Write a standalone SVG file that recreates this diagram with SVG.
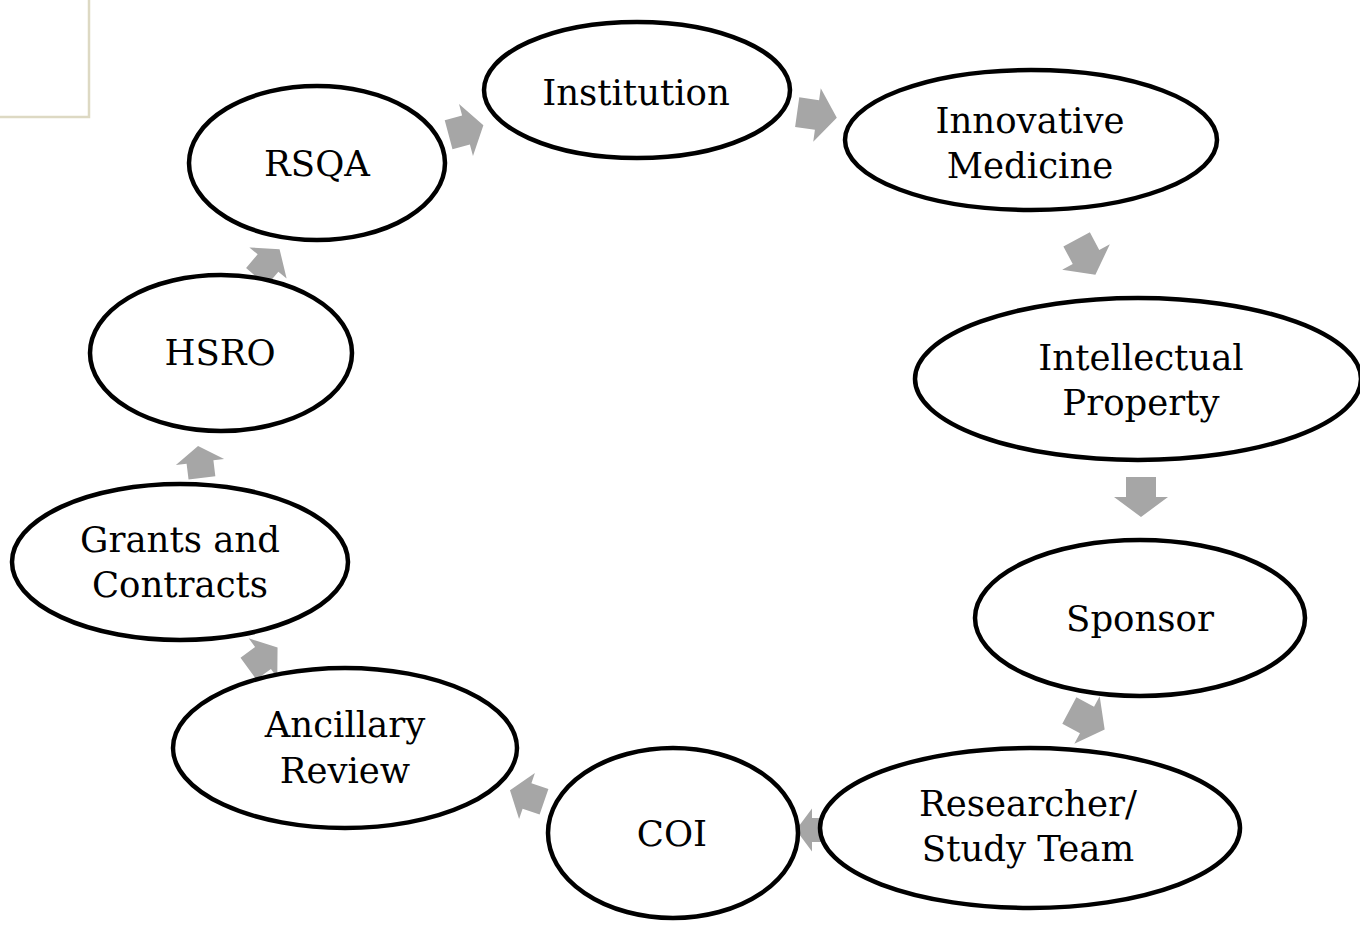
<svg xmlns="http://www.w3.org/2000/svg" width="1360" height="925" viewBox="0 0 1360 925">
<style>
.n{fill:#fff;stroke:#000;stroke-width:4.5}
.t{font-family:"DejaVu Serif","Liberation Serif",serif;font-size:35.5px;fill:#000;text-anchor:middle}
.a{fill:#a6a6a6}
</style>
<defs>
<path id="arr" d="M-20,-15 L0,-15 L0,-27 L20,0 L0,27 L0,15 L-20,15 Z"/>
</defs>
<rect width="1360" height="925" fill="#fff"/>
<path d="M89,0 V117 H0" fill="none" stroke="#ddd9c3" stroke-width="2.5"/>
<g id="connectors" class="a">
<use href="#arr" transform="translate(466,130) rotate(-15) scale(0.9,1)"/>
<use href="#arr" transform="translate(817,115) rotate(8)"/>
<use href="#arr" transform="translate(1086,257) rotate(62)"/>
<use href="#arr" transform="translate(1141,497) rotate(90)"/>
<use href="#arr" transform="translate(1087,720) rotate(28)"/>
<use href="#arr" transform="translate(812,830) rotate(180) scale(0.8)"/>
<use href="#arr" transform="translate(527,796) rotate(199) scale(0.9)"/>
<use href="#arr" transform="translate(263,658) rotate(-36) scale(0.9)"/>
<use href="#arr" transform="translate(200,462) rotate(-97) scale(0.8,0.9)"/>
<use href="#arr" transform="translate(268,263) rotate(-50) scale(0.9)"/>
</g>
<g id="institution"><ellipse class="n" cx="637" cy="90" rx="153" ry="68"/><text class="t" x="636" y="105">Institution</text></g>
<g id="innovative"><ellipse class="n" cx="1031" cy="140" rx="186" ry="70"/><text class="t" x="1030" y="133">Innovative</text><text class="t" x="1030" y="178">Medicine</text></g>
<g id="intellectual"><ellipse class="n" cx="1138" cy="379" rx="223" ry="81"/><text class="t" x="1141" y="370">Intellectual</text><text class="t" x="1141" y="415">Property</text></g>
<g id="sponsor"><ellipse class="n" cx="1140" cy="618" rx="165" ry="78"/><text class="t" x="1140" y="631">Sponsor</text></g>
<g id="researcher"><ellipse class="n" cx="1030" cy="828" rx="210" ry="80"/><text class="t" x="1028" y="816">Researcher/</text><text class="t" x="1028" y="861">Study Team</text></g>
<g id="coi"><ellipse class="n" cx="673" cy="833" rx="125" ry="85"/><text class="t" x="672" y="846">COI</text></g>
<g id="ancillary"><ellipse class="n" cx="345" cy="748" rx="172" ry="80"/><text class="t" x="345" y="737">Ancillary</text><text class="t" x="345" y="783">Review</text></g>
<g id="grants"><ellipse class="n" cx="180" cy="562" rx="168" ry="78"/><text class="t" x="180" y="552">Grants and</text><text class="t" x="180" y="597">Contracts</text></g>
<g id="hsro"><ellipse class="n" cx="221" cy="353" rx="131" ry="78"/><text class="t" x="220" y="365">HSRO</text></g>
<g id="rsqa"><ellipse class="n" cx="317" cy="163" rx="128" ry="77"/><text class="t" x="317" y="176">RSQA</text></g>
</svg>
